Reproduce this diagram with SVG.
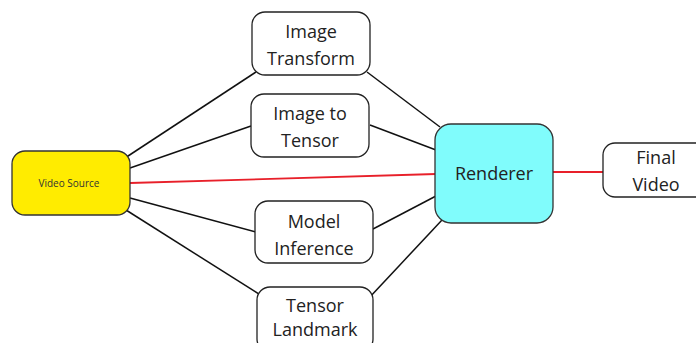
<svg xmlns="http://www.w3.org/2000/svg" width="696" height="343" viewBox="0 0 696 343">
<style>
.n{fill:#fff;stroke:#222;stroke-width:1.3}
.t{font-family:"Open Sans","Noto Sans",sans-serif;font-size:18px;fill:#222;text-anchor:middle}
.c{stroke:#111;stroke-width:1.5;fill:none}
.r{stroke:#e8202a;stroke-width:1.8;fill:none}
</style>
<rect width="696" height="343" fill="#fff"/>
<g id="connectors">
<line class="c" x1="125" y1="158" x2="256" y2="72"/>
<line class="c" x1="130" y1="168" x2="251" y2="126"/>
<line class="c" x1="130" y1="198" x2="256" y2="232"/>
<line class="c" x1="126" y1="210" x2="262" y2="296"/>
<line class="c" x1="367" y1="72" x2="440" y2="127"/>
<line class="c" x1="370" y1="125" x2="436" y2="150"/>
<line class="c" x1="373" y1="229" x2="436" y2="196"/>
<line class="c" x1="369" y1="298" x2="442" y2="220"/>
<line class="r" x1="130" y1="183" x2="436" y2="174"/>
<line class="r" x1="553" y1="172" x2="604" y2="172"/>
</g>
<g id="video-source">
<rect x="12" y="151" width="118" height="64" rx="13" fill="#ffec00" stroke="#333" stroke-width="1.3"/>
<text x="69" y="187" font-family="'Open Sans','Noto Sans',sans-serif" font-size="10" fill="#333" text-anchor="middle">Video Source</text>
</g>
<g id="image-transform">
<rect class="n" x="252" y="12" width="118" height="63" rx="13"/>
<text class="t" x="311" y="38">Image</text>
<text class="t" x="311" y="65">Transform</text>
</g>
<g id="image-to-tensor">
<rect class="n" x="251" y="94" width="118" height="63" rx="13"/>
<text class="t" x="310" y="120">Image to</text>
<text class="t" x="310" y="147">Tensor</text>
</g>
<g id="model-inference">
<rect class="n" x="255" y="201" width="118" height="62" rx="13"/>
<text class="t" x="314" y="228">Model</text>
<text class="t" x="314" y="255">Inference</text>
</g>
<g id="tensor-landmark">
<rect class="n" x="257" y="287" width="116" height="65" rx="13"/>
<text class="t" x="315" y="312">Tensor</text>
<text class="t" x="315" y="336">Landmark</text>
</g>
<g id="renderer">
<rect x="435" y="124" width="118" height="99" rx="16" fill="#80fcfc" stroke="#333" stroke-width="1.3"/>
<text class="t" x="494" y="180">Renderer</text>
</g>
<g id="final-video">
<rect class="n" x="603" y="143" width="105" height="54" rx="12"/>
<text class="t" x="656" y="164">Final</text>
<text class="t" x="656" y="191">Video</text>
</g>
</svg>
